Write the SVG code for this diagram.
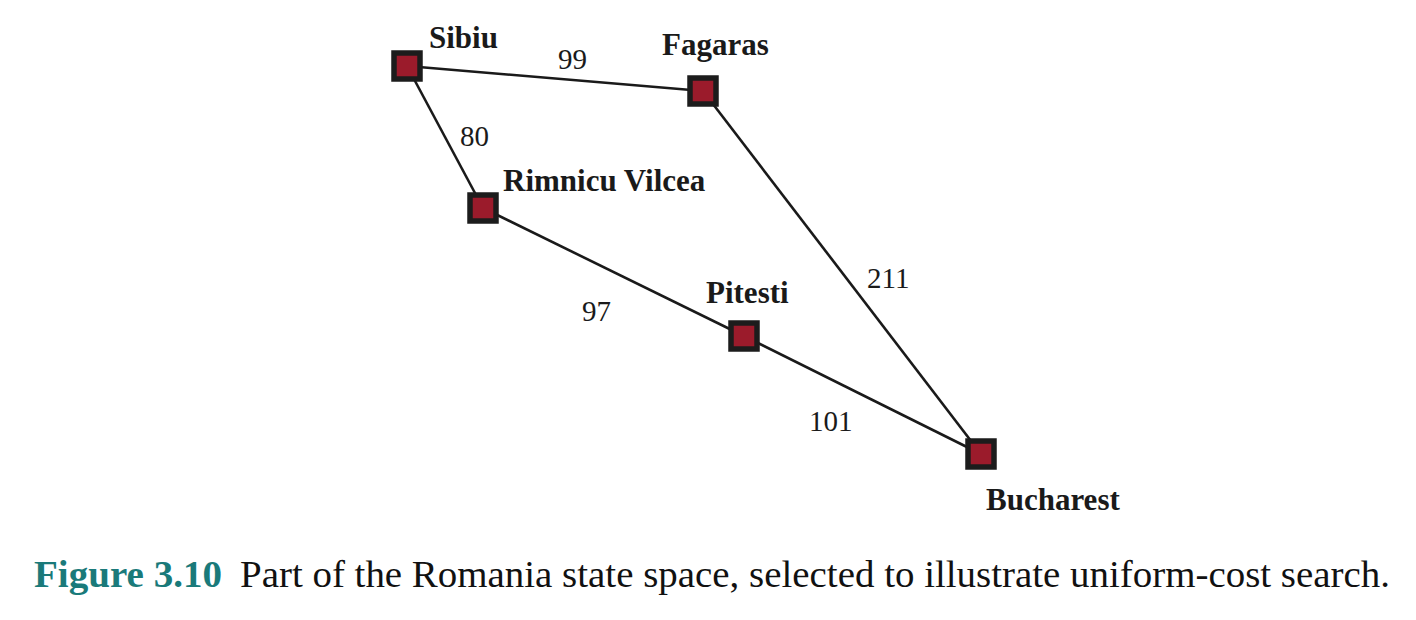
<svg xmlns="http://www.w3.org/2000/svg" width="1416" height="620" viewBox="0 0 1416 620">
<style>
.edge{stroke:#1a1a1a;stroke-width:2.6;fill:none}
.box{fill:#9b1b2b;stroke:#1c1c1c;stroke-width:5.5}
.lbl{font-family:"Liberation Serif",serif;font-weight:bold;font-size:31px;fill:#1a1a1a}
.w{font-family:"Liberation Serif",serif;font-size:29px;fill:#1a1a1a}
.cap{font-family:"Liberation Serif",serif;font-size:38px;fill:#111}
.fig{font-weight:bold;fill:#1a7a7a}
</style>
<rect width="1416" height="620" fill="#fff"/>
<g id="connectors">
<line class="edge" x1="407" y1="66" x2="703" y2="91"/>
<line class="edge" x1="407" y1="66" x2="483" y2="208"/>
<line class="edge" x1="703" y1="91" x2="981" y2="454"/>
<line class="edge" x1="483" y1="208" x2="744" y2="336"/>
<line class="edge" x1="744" y1="336" x2="981" y2="454"/>
<text class="w" x="558" y="69">99</text>
<text class="w" x="460" y="146">80</text>
<text class="w" x="867" y="288">211</text>
<text class="w" x="582" y="321">97</text>
<text class="w" x="809" y="431">101</text>
</g>
<g id="sibiu"><rect class="box" x="394" y="53" width="26" height="26"/><text class="lbl" x="429" y="48">Sibiu</text></g>
<g id="fagaras"><rect class="box" x="690" y="78" width="26" height="26"/><text class="lbl" x="662" y="55">Fagaras</text></g>
<g id="rimnicu"><rect class="box" x="470" y="195" width="26" height="26"/><text class="lbl" x="503" y="191">Rimnicu Vilcea</text></g>
<g id="pitesti"><rect class="box" x="731" y="323" width="26" height="26"/><text class="lbl" x="706" y="303">Pitesti</text></g>
<g id="bucharest"><rect class="box" x="968" y="441" width="26" height="26"/><text class="lbl" x="986" y="510">Bucharest</text></g>
<g id="caption">
<text class="cap fig" x="34" y="587" textLength="188" lengthAdjust="spacingAndGlyphs">Figure 3.10</text>
<text class="cap" x="240" y="587" textLength="1150" lengthAdjust="spacingAndGlyphs">Part of the Romania state space, selected to illustrate uniform-cost search.</text>
</g>
</svg>
